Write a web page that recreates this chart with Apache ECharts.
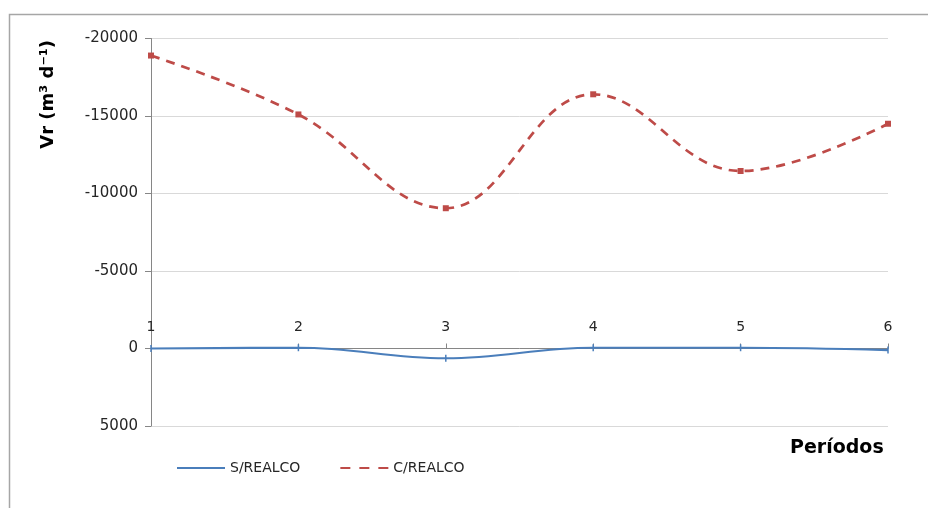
<!DOCTYPE html>
<html>
<head>
<meta charset="utf-8">
<script src="https://cdn.jsdelivr.net/npm/echarts@6/dist/echarts.min.js"></script>
<style>
html,body{margin:0;padding:0;background:#fff;}
#c{width:928px;height:508px;}
</style>
</head>
<body>
<div id="c"></div>
<script>
var categories = ['1', '2', '3', '4', '5', '6'];
var sRealco = [0, -50, 630, -50, -50, 100];
var cRealco = [-18900, -15100, -9050, -16400, -11450, -14500];
var yTicks = { min: -20000, max: 5000, interval: 5000 };

var FONT = 'DejaVu Sans';
var chart = echarts.init(document.getElementById('c'));
chart.setOption({
  backgroundColor: '#ffffff',
  animation: false,
  grid: { left: 151, right: 40, top: 38.5, bottom: 82, containLabel: false },
  graphic: [
    { type: 'rect', shape: { x: 9.5, y: 14.5, width: 940, height: 520 },
      style: { fill: 'none', stroke: '#a6a6a6', lineWidth: 1.5 }, z: -1 },
    { type: 'text', left: 39, top: 40,
      rotation: Math.PI / 2,
      style: { text: 'Vr (m³ d⁻¹)', font: 'bold 18px ' + FONT, fill: '#000' } },
    { type: 'text', left: 790, top: 439,
      style: { text: 'Períodos', font: 'bold 19px ' + FONT, fill: '#000' } }
  ],
  legend: {
    left: 172, top: 456,
    itemWidth: 48, itemHeight: 10, itemGap: 40,
    textStyle: { fontFamily: FONT, fontSize: 14, color: '#262626' },
    data: [
      { name: 'S/REALCO', icon: 'path://M0,4L48,4L48,6L0,6Z', itemStyle: { color: '#4a7ebb' } },
      { name: 'C/REALCO', icon: 'path://M0,4L10,4L10,6L0,6ZM19,4L29,4L29,6L19,6ZM38,4L48,4L48,6L38,6Z', itemStyle: { color: '#be4b48' } }
    ]
  },
  xAxis: {
    type: 'category',
    data: categories,
    boundaryGap: false,
    offset: -77.5,
    axisLine: { onZero: false, lineStyle: { color: '#868686', width: 1 } },
    axisTick: { show: true, alignWithLabel: true, inside: true, length: 5, lineStyle: { color: '#868686' } },
    axisLabel: { inside: true, margin: 14, fontFamily: FONT, fontSize: 14, color: '#262626' },
    splitLine: { show: false }
  },
  yAxis: {
    type: 'value',
    inverse: true,
    min: yTicks.min, max: yTicks.max, interval: yTicks.interval,
    axisLine: { show: true, lineStyle: { color: '#868686' } },
    axisTick: { show: true, length: 6, lineStyle: { color: '#868686' } },
    axisLabel: { fontFamily: FONT, fontSize: 15, color: '#262626', margin: 13,
      formatter: function (v) { return String(v); } },
    splitLine: { lineStyle: { color: '#d9d9d9', width: 1 } }
  },
  series: [
    {
      name: 'S/REALCO', type: 'line', data: sRealco, smooth: 0.4,
      symbol: 'rect', symbolSize: [1.5, 7], showSymbol: true,
      itemStyle: { color: '#4a7ebb' },
      lineStyle: { color: '#4a7ebb', width: 2.2 },
      z: 3
    },
    {
      name: 'C/REALCO', type: 'line', data: cRealco, smooth: 0.4,
      symbol: 'rect', symbolSize: 6, showSymbol: true,
      itemStyle: { color: '#be4b48' },
      lineStyle: { color: '#be4b48', width: 2.7, type: [9, 7] },
      z: 3
    }
  ]
});
</script>
</body>
</html>
